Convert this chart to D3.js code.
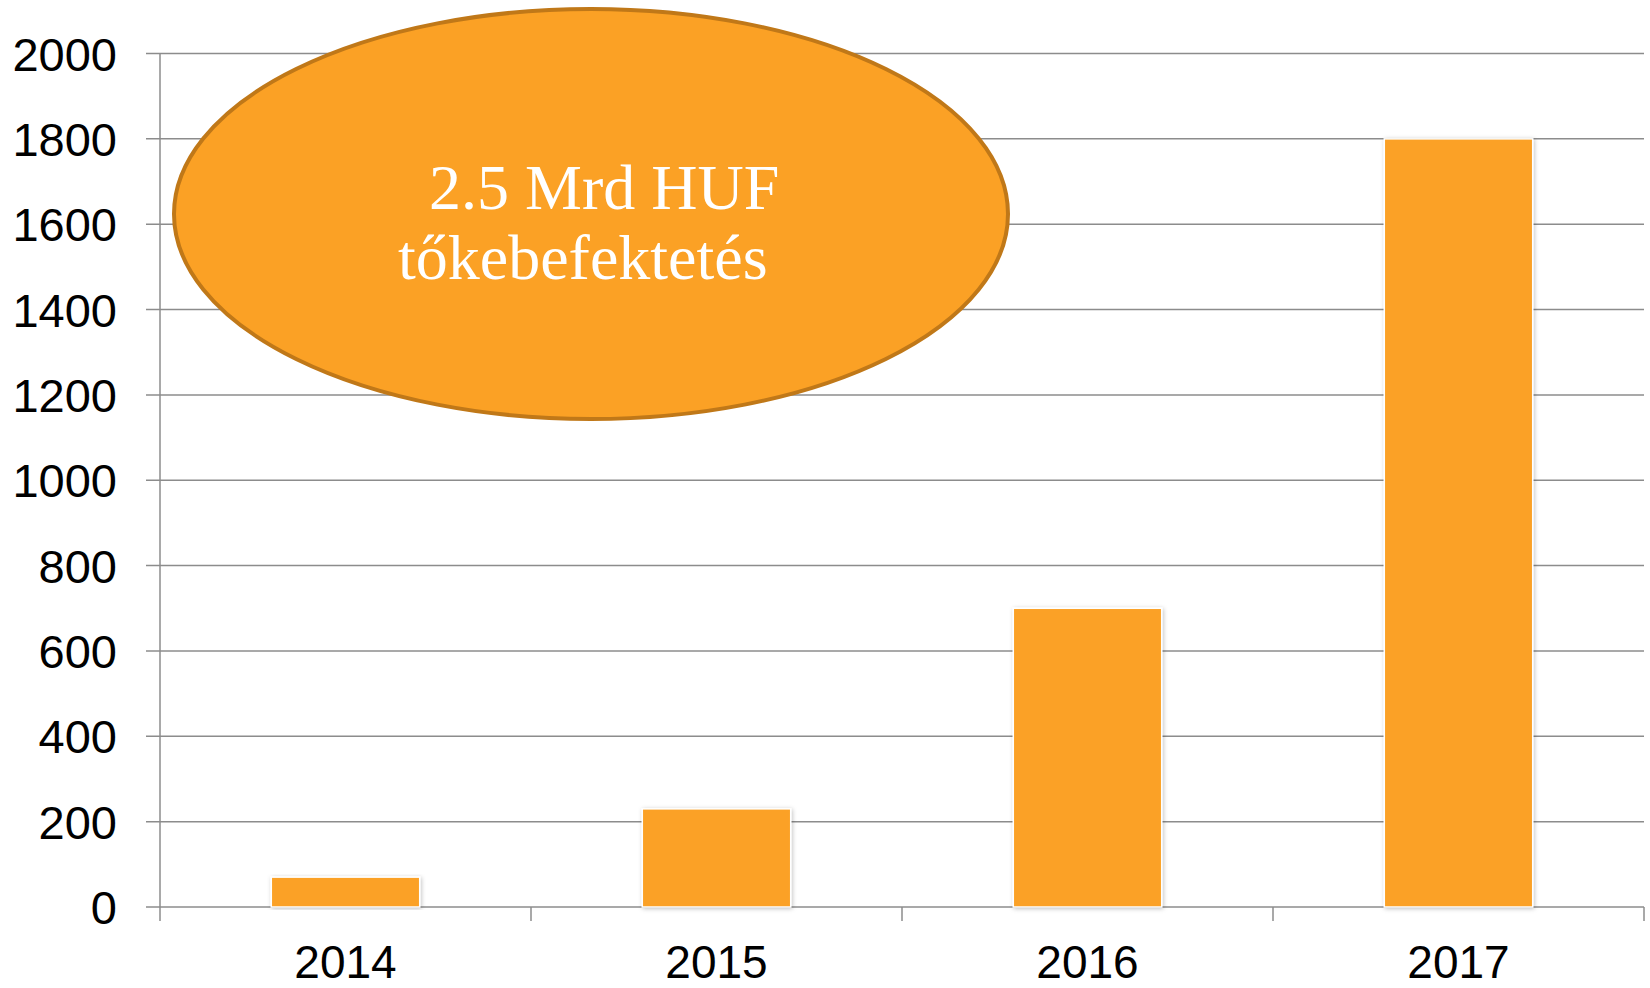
<!DOCTYPE html>
<html><head><meta charset="utf-8">
<script src="https://cdn.jsdelivr.net/npm/d3@7"></script>
<style>html,body{margin:0;padding:0;background:#fff;}svg{display:block;}</style>
</head><body>
<svg id="c" width="1650" height="988"></svg>
<script>
const categories = ["2014", "2015", "2016", "2017"];
const values = [70, 230, 700, 1800];
const yTicks = [0, 200, 400, 600, 800, 1000, 1200, 1400, 1600, 1800, 2000];
const calloutLines = ["2.5 Mrd HUF", "tőkebefektetés"];

(function () {
const svg = d3.select("#c");
const pLeft = 160, pRight = 1644, pTop = 53.5, pBottom = 907;
const x = d3.scaleBand().domain(categories).range([pLeft, pRight]).paddingInner(0.6).paddingOuter(0.3);
const xb = d3.scaleBand().domain(categories).range([pLeft, pRight]).padding(0);
const y = d3.scaleLinear().domain([0, 2000]).range([pBottom, pTop]);

const defs = svg.append("defs");
const f = defs.append("filter").attr("id", "sh").attr("x", "-10%").attr("y", "-10%").attr("width", "120%").attr("height", "120%");
f.append("feDropShadow").attr("dx", 1).attr("dy", 1).attr("stdDeviation", 2).attr("flood-color", "#000").attr("flood-opacity", 0.25);

svg.append("g").selectAll("line").data(yTicks).join("line")
  .attr("x1", pLeft - 14).attr("x2", pRight).attr("y1", d => y(d)).attr("y2", d => y(d))
  .attr("stroke", "#8c8c8c").attr("stroke-width", 1.5);

svg.append("line").attr("x1", pLeft).attr("x2", pLeft).attr("y1", pTop).attr("y2", pBottom + 14)
  .attr("stroke", "#8c8c8c").attr("stroke-width", 1.5);

const bounds = categories.map(c => xb(c)).concat([pRight]);
svg.append("g").selectAll("line").data(bounds.slice(1)).join("line")
  .attr("x1", d => d).attr("x2", d => d).attr("y1", pBottom).attr("y2", pBottom + 14)
  .attr("stroke", "#8c8c8c").attr("stroke-width", 1.5);

svg.append("g").selectAll("text").data(yTicks).join("text")
  .attr("x", 117).attr("y", d => y(d) + 17)
  .attr("text-anchor", "end").attr("font-family", "Liberation Sans, Arial, sans-serif")
  .attr("font-size", 47).attr("fill", "#000").text(d => d);

svg.append("g").selectAll("text").data(categories).join("text")
  .attr("x", d => xb(d) + xb.bandwidth() / 2).attr("y", 978)
  .attr("text-anchor", "middle").attr("font-family", "Liberation Sans, Arial, sans-serif")
  .attr("font-size", 46).attr("fill", "#000").text(d => d);

svg.append("g").selectAll("rect").data(categories).join("rect")
  .attr("x", d => x(d)).attr("width", x.bandwidth())
  .attr("y", (d, i) => y(values[i])).attr("height", (d, i) => y(0) - y(values[i]))
  .attr("fill", "#FBA125").attr("stroke", "#fff").attr("stroke-width", 1.5)
  .attr("filter", "url(#sh)");

const cx = 591, cy = 214, rx = 417, ry = 205;
svg.append("ellipse").attr("cx", cx).attr("cy", cy).attr("rx", rx).attr("ry", ry)
  .attr("fill", "#FBA125").attr("stroke", "#C07818").attr("stroke-width", 4);

const tx = [429, 398], ty = [209, 279];
svg.append("g").selectAll("text").data(calloutLines).join("text")
  .attr("x", (d, i) => tx[i]).attr("y", (d, i) => ty[i])
  .attr("font-family", "Liberation Serif, 'Times New Roman', serif")
  .attr("font-size", 64).attr("fill", "#fff").text(d => d);
})();
</script>
</body></html>
